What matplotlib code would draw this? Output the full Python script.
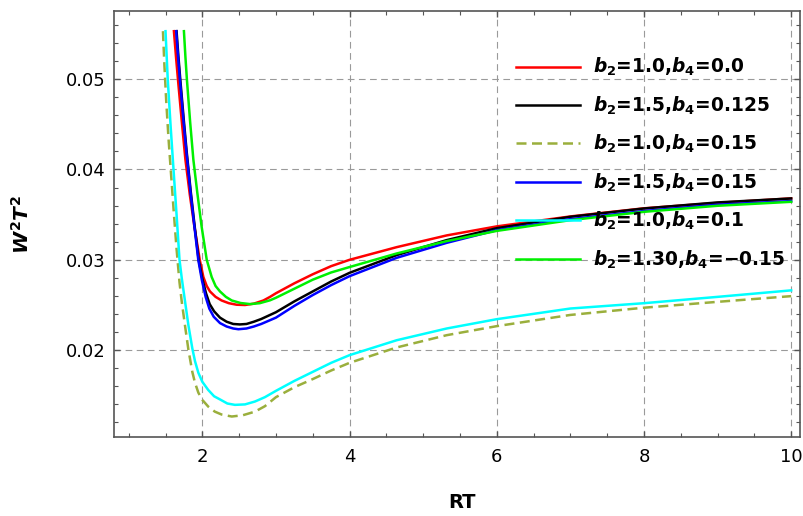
import matplotlib
matplotlib.use("Agg")
import matplotlib.pyplot as plt
from matplotlib.ticker import FixedLocator, MultipleLocator

plt.rcParams['font.family'] = ['DejaVu Sans']
plt.rcParams['mathtext.fontset'] = 'custom'
plt.rcParams['mathtext.it'] = 'DejaVu Sans:italic:bold'
plt.rcParams['mathtext.rm'] = 'DejaVu Sans:bold'
plt.rcParams['mathtext.bf'] = 'DejaVu Sans:bold'

# 读图得到的数据
x_red = [1.614, 1.645, 1.674, 1.72, 1.77, 1.83, 1.89, 1.965, 2.014, 2.06, 2.104, 2.18, 2.262,
         2.36, 2.466, 2.58, 2.7, 2.83, 2.92, 3.0, 3.25, 3.5, 3.75, 4.0, 4.64, 5.32, 6.0, 7.0,
         8.0, 9.0, 10.0]
y_red = [0.0553, 0.0522, 0.0495, 0.0454, 0.0411, 0.0372, 0.0338, 0.0300, 0.0281, 0.0271, 0.0265,
         0.0259, 0.0255, 0.02520, 0.02503, 0.0250, 0.02515, 0.0255, 0.0259, 0.0263, 0.0274,
         0.0284, 0.0293, 0.0300, 0.0314, 0.0327, 0.0337, 0.0348, 0.0357, 0.0363, 0.0368]

x_black = [1.65, 1.675, 1.70, 1.75, 1.787, 1.842, 1.896, 1.95, 2.0, 2.05, 2.1, 2.16, 2.24, 2.33,
           2.42, 2.51, 2.6, 2.7, 2.8, 3.0, 3.25, 3.5, 3.75, 4.0, 4.64, 5.32, 6.0, 7.0, 8.0, 9.0,
           10.0]
y_black = [0.0553, 0.0525, 0.0500, 0.0453, 0.0420, 0.0376, 0.0337, 0.0300, 0.0279, 0.0263,
           0.0251, 0.0243, 0.0236, 0.02315, 0.0229, 0.02285, 0.0229, 0.02315, 0.02345, 0.0242,
           0.0254, 0.0265, 0.0276, 0.02856, 0.03052, 0.03218, 0.0335, 0.03476, 0.03568,
           0.03635, 0.03679]

x_olive = [1.465, 1.485, 1.51, 1.54, 1.575, 1.61, 1.65, 1.69, 1.72, 1.765, 1.81, 1.864, 1.90,
           1.946, 2.0, 2.08, 2.17, 2.262, 2.40, 2.55, 2.715, 2.85, 3.0, 3.25, 3.5, 3.75, 4.0,
           4.64, 5.32, 6.0, 7.0, 8.0, 9.0, 10.0]
y_olive = [0.0553, 0.0515, 0.0475, 0.0435, 0.0395, 0.0355, 0.0312, 0.0275, 0.0254, 0.0227,
           0.0201, 0.0176, 0.0164, 0.0153, 0.0145, 0.01376, 0.0132, 0.01288, 0.01266, 0.0128,
           0.0132, 0.0138, 0.0148, 0.0159, 0.0168, 0.01775, 0.0186, 0.0203, 0.02166, 0.02266,
           0.0239, 0.0247, 0.02535, 0.02598]

x_blue = [1.645, 1.67, 1.695, 1.745, 1.783, 1.838, 1.892, 1.945, 1.995, 2.045, 2.095, 2.155,
          2.24, 2.33, 2.42, 2.49, 2.6, 2.7, 2.8, 3.0, 3.25, 3.5, 3.75, 4.0, 4.64, 5.32, 6.0, 7.0,
          8.0, 9.0, 10.0]
y_blue = [0.0553, 0.0525, 0.0500, 0.0453, 0.0420, 0.0376, 0.0337, 0.0300, 0.0277, 0.0259,
          0.0246, 0.0237, 0.0230, 0.02262, 0.0224, 0.02232, 0.0224, 0.02262, 0.0229, 0.0236,
          0.0249, 0.0261, 0.0272, 0.02819, 0.03022, 0.03188, 0.03328, 0.0345, 0.0354, 0.0361,
          0.0365]

x_cyan = [1.50, 1.53, 1.57, 1.606, 1.65, 1.69, 1.72, 1.765, 1.81, 1.864, 1.90, 1.946, 2.0, 2.08,
          2.16, 2.24, 2.34, 2.443, 2.58, 2.715, 2.85, 3.0, 3.25, 3.5, 3.75, 4.0, 4.64, 5.32, 6.0,
          7.0, 8.0, 9.0, 10.0]
y_cyan = [0.0553, 0.0500, 0.0447, 0.0403, 0.0350, 0.0300, 0.0280, 0.0254, 0.0228, 0.0202,
          0.0188, 0.0175, 0.0165, 0.0156, 0.0149, 0.01455, 0.0141, 0.01395, 0.0140, 0.01432,
          0.0148, 0.0155, 0.0166, 0.0176, 0.0186, 0.01945, 0.0211, 0.0224, 0.02343, 0.02461,
          0.0252, 0.0259, 0.02662]

x_green = [1.75, 1.77, 1.79, 1.835, 1.878, 1.932, 1.99, 2.06, 2.127, 2.18, 2.24, 2.32, 2.40,
           2.52, 2.65, 2.78, 2.92, 3.0, 3.25, 3.5, 3.75, 4.0, 4.64, 5.32, 6.0, 7.0, 8.0, 9.0,
           10.0]
y_green = [0.0553, 0.0525, 0.0500, 0.0452, 0.0411, 0.0374, 0.0337, 0.0300, 0.0281, 0.0271,
           0.0265, 0.0259, 0.0255, 0.02522, 0.0251, 0.0252, 0.02552, 0.0258, 0.0268, 0.0278,
           0.0286, 0.0292, 0.0307, 0.03207, 0.0332, 0.03439, 0.03531, 0.03598, 0.03642]

labels = [r'$b_2$=1.0,$b_4$=0.0',
          r'$b_2$=1.5,$b_4$=0.125',
          r'$b_2$=1.0,$b_4$=0.15',
          r'$b_2$=1.5,$b_4$=0.15',
          r'$b_2$=1.0,$b_4$=0.1',
          r'$b_2$=1.30,$b_4$=' + '\u22120.15']

x_ticks = [2, 4, 6, 8, 10]
y_ticks = [0.02, 0.03, 0.04, 0.05]
y_ticklabels = ['0.02', '0.03', '0.04', '0.05']

fig = plt.figure(figsize=(8.04, 5.16), dpi=100)
ax = fig.add_axes([114 / 804, (516 - 437.3) / 516, 686 / 804, 426 / 516])

lw = 1.8
ax.plot(x_red, y_red, color='#ff0000', lw=lw, label=labels[0])
ax.plot(x_black, y_black, color='black', lw=lw, label=labels[1])
ax.plot(x_olive, y_olive, color='#9aaf3c', lw=lw, linestyle=(0, (4, 2.2)), label=labels[2])
ax.plot(x_blue, y_blue, color='#0000ff', lw=lw, label=labels[3])
ax.plot(x_cyan, y_cyan, color='#00ffff', lw=lw, label=labels[4])
ax.plot(x_green, y_green, color='#00f000', lw=lw, label=labels[5])

ax.set_xlim(0.8, 10.12)
ax.set_ylim(0.01036, 0.0575)

ax.xaxis.set_major_locator(FixedLocator(x_ticks))
ax.xaxis.set_minor_locator(MultipleLocator(0.5))
ax.yaxis.set_major_locator(FixedLocator(y_ticks))
ax.yaxis.set_minor_locator(MultipleLocator(0.002))
ax.set_xticklabels([str(t) for t in x_ticks])
ax.set_yticklabels(y_ticklabels)

ax.tick_params(which='both', direction='in', top=True, right=True, colors='#555555',
               labelcolor='black', labelsize=13)
ax.tick_params(which='major', length=4, width=1)
ax.tick_params(which='minor', length=3, width=0.8)
ax.tick_params(axis='x', pad=8)
ax.tick_params(axis='y', pad=6)
for s in ax.spines.values():
    s.set_color('#555555')
    s.set_linewidth(1.2)

ax.grid(True, which='major', color='#9a9a9a', lw=0.8, linestyle=(0, (6, 4)))

ax.set_xlabel('RT', fontsize=14, fontweight='bold')
ax.xaxis.set_label_coords(0.507, -0.13)
ax.set_ylabel(r'$W^2T^2$', fontsize=14.5)
ax.yaxis.set_label_coords(-0.118, 0.5)

leg = ax.legend(loc='upper left', bbox_to_anchor=(0.586, 0.895), frameon=False,
                prop={'size': 13.4, 'weight': 'bold'}, borderpad=0, borderaxespad=0,
                handlelength=3.44, handletextpad=0.7, labelspacing=0.87)

fig.savefig('out.png', dpi=100)
